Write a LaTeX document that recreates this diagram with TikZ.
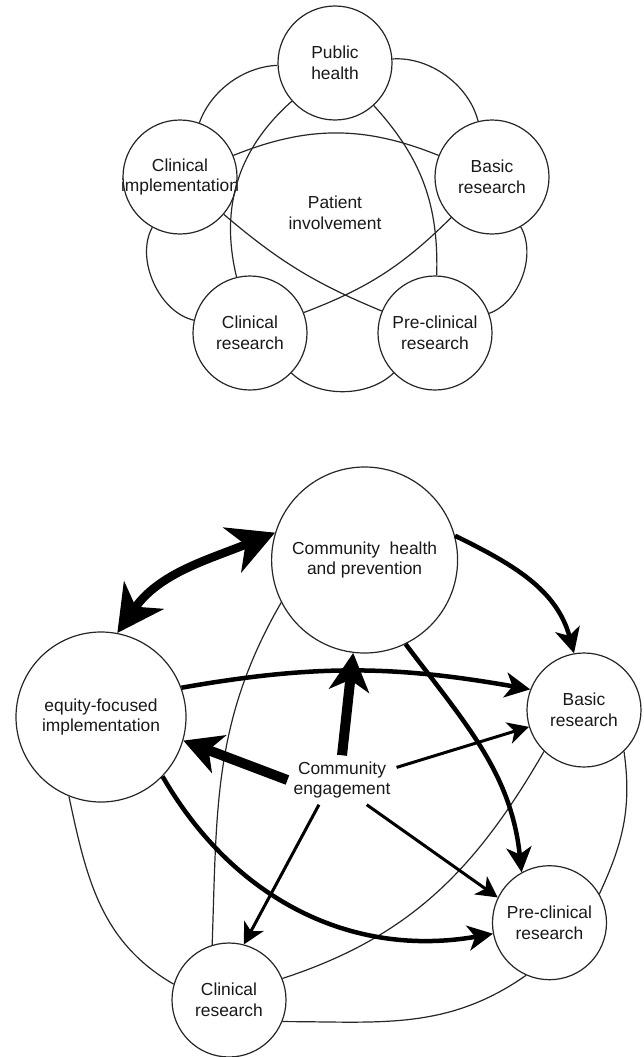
\documentclass[tikz,border=0pt]{standalone}
\usepackage{fontspec}
\setmainfont{Liberation Sans}
\usetikzlibrary{arrows.meta,calc}
\begin{document}
\begin{tikzpicture}[x=1pt,y=-1pt,
  circ/.style={circle,draw=black!85,line width=1.2pt,inner sep=0pt,fill=white},
  small/.style={circ,minimum size=114pt},
  txt/.style={align=center,font=\fontsize{17.4}{20.8}\selectfont,inner sep=0pt,text=black!90},
  thinline/.style={line width=1.2pt,draw=black!85},
  hugearrow/.style={line width=8.5pt,{Stealth[length=46pt,width=48pt,inset=14pt]}-{Stealth[length=46pt,width=48pt,inset=14pt]}},
  bigarrow/.style={line width=10pt,-{Stealth[length=38pt,width=40pt,inset=11pt]}},
  medarrow/.style={line width=4.5pt,-{Stealth[length=25pt,width=25pt,inset=7pt]}},
  smarrow/.style={line width=3pt,-{Stealth[length=21pt,width=22pt,inset=6pt]}}
]
\useasboundingbox (0,0) rectangle (643,1057);

% ---------- top diagram ----------
\node[small] (PH) at (335,63) {};
\node[small] (BR) at (492,177) {};
\node[small] (CI) at (180,177) {};
\node[small] (CR) at (250,333) {};
\node[small] (PC) at (435,333) {};
\node[txt] (PHt) at (PH) {Public\\health};
\node[txt] (BRt) at (BR) {Basic\\research};
\node[txt] (CIt) at (CI) {Clinical\\implementation};
\node[txt] (CRt) at (CR) {Clinical\\research};
\node[txt] (PCt) at (PC) {Pre-clinical\\research};
\node[txt] (PI) at (335,213) {Patient\\involvement};

\draw[thinline] (PH) to[bend left=40,looseness=0.9] (BR);
\draw[thinline] (BR) to[bend left=50,looseness=0.9] (PC);
\draw[thinline] (PC) to[bend left=44,looseness=0.9] (CR);
\draw[thinline] (CR) to[bend left=53,looseness=0.9] (CI);
\draw[thinline] (CI) to[bend left=34,looseness=0.9] (PH);

\draw[thinline] (PH) to[bend left=22] (PC);
\draw[thinline] (PC) to[bend left=9] (CI);
\draw[thinline] (CI) to[bend left=22] (BR);
\draw[thinline] (BR) to[bend left=12] (CR);
\draw[thinline] (CR) to[bend left=31] (PH);

% ---------- bottom diagram ----------
\node[circ,minimum size=186pt] (CH) at (364.6,560) {};
\node[circ,minimum size=170pt] (EQ) at (101,717) {};
\node[small] (BA) at (584,710) {};
\node[small] (PR) at (549.5,922.7) {};
\node[small] (CL) at (229,1000) {};
\node[txt] (CHt) at (CH) {Community\ \ health\\and prevention};
\node[txt] (EQt) at (EQ) {equity-focused\\implementation};
\node[txt] (BAt) at (BA) {Basic\\research};
\node[txt] (PRt) at (PR) {Pre-clinical\\research};
\node[txt] (CLt) at (CL) {Clinical\\research};
\node[txt,inner sep=6pt] (CE) at (342,780) {Community\\engagement};

% thin connectors
\draw[thinline] (CH.207) to[out=240,in=88] (CL.107);
\draw[thinline] (EQ.248) to[out=-78,in=150] (CL.164);
\draw[thinline] (BA.226) to[out=240,in=18] (CL.22);
\draw[thinline] (BA.-46) to[out=-82,in=65] (PR.30);
\draw[thinline] (PR.246) to[out=215,in=0] (CL.-22);

% arrows
\draw[hugearrow] (EQ.79) to[out=55,in=202] (CH.163);
\draw[medarrow] (CH.15) to[out=-26,in=105] (BA.100);
\draw[medarrow] (CH.-64) to[out=-53,in=96] (PR.119);
\draw[medarrow] (EQ.20) to[out=10,in=170] (BA.159);
\draw[medarrow] (EQ.-44) to[out=-60,in=190] (PR.191);
\draw[bigarrow] (CE.north) -- (CH.263);
\draw[bigarrow] (CE.west) -- (EQ.-16);
\draw[smarrow] (CE.13) -- (BA.197);
\draw[smarrow] (CE.-45) -- (PR.154);
\draw[smarrow] (CE.-133) -- (CL.75);
\end{tikzpicture}
\end{document}
